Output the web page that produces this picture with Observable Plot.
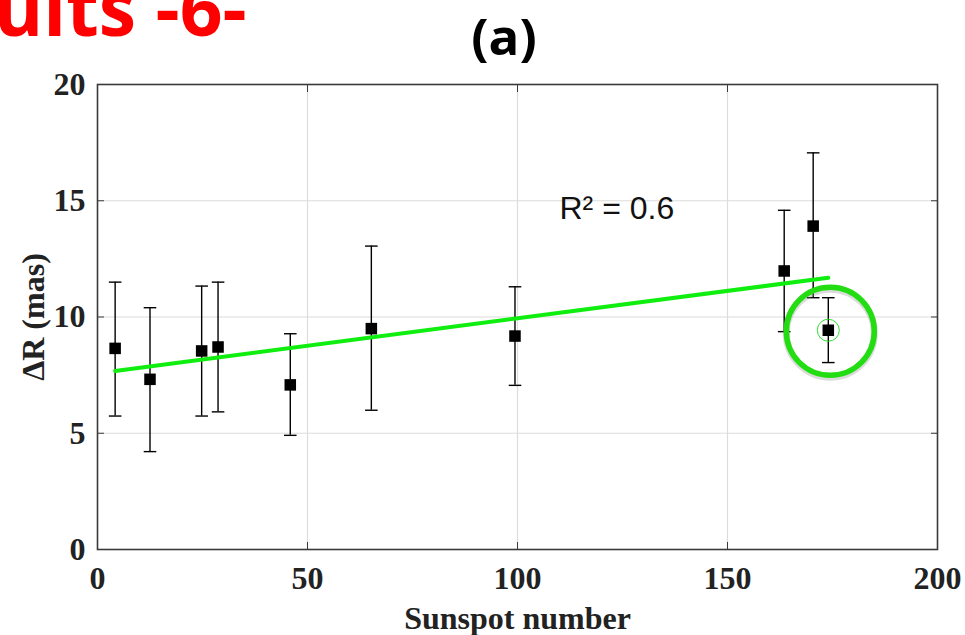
<!DOCTYPE html>
<html>
<head>
<meta charset="utf-8">
<script src="https://cdn.jsdelivr.net/npm/d3@7"></script>
<script src="https://cdn.jsdelivr.net/npm/@observablehq/plot@0.6"></script>
<style>
  html, body { margin: 0; padding: 0; background: #fff; overflow: hidden; }
  #wrap { position: relative; width: 965px; height: 635px; overflow: hidden; }
  #chart { position: absolute; left: 0; top: 0; }
  .slide { position: absolute; left: -6px; top: -30px; font-family: "Open Sans", sans-serif; font-weight: 700; font-size: 75px; line-height: 1; color: #ff0000; white-space: nowrap; }
  .panel { position: absolute; left: 504px; top: 0px; transform: translateX(-50%); font-family: "Open Sans", sans-serif; font-weight: 700; font-size: 51px; line-height: normal; color: #000; white-space: nowrap; }
</style>
</head>
<body>
<div id="wrap">
  <div id="chart"></div>
  <div class="slide">ults -6-</div>
  <div class="panel">(a)</div>
</div>
<script>
// ---- data ----
const sunspot = [4.2, 12.5, 24.8, 28.7, 45.9, 65.2, 99.4, 163.5, 170.4, 174.0];
const deltaR  = [8.65, 7.32, 8.54, 8.71, 7.08, 9.50, 9.18, 11.98, 13.91, 9.43];
const errHigh = [11.50, 10.40, 11.33, 11.50, 9.28, 13.05, 11.30, 14.59, 17.06, 10.83];
const errLow  = [5.74, 4.21, 5.74, 5.92, 4.91, 5.99, 7.06, 9.37, 10.83, 8.04];
const fitX = [4.2, 174.0];
const fitY = [7.68, 11.69];
const highlighted = [9];              // index of the circled point
const xTicks = [0, 50, 100, 150, 200];
const yTicks = [0, 5, 10, 15, 20];
const gridXTicks = [50, 100, 150];
const gridYTicks = [5, 10, 15];
const noteX = [110];
const noteY = [14.2];
const noteText = ["R² = 0.6"];

const points = sunspot.map((x, i) => ({x, y: deltaR[i], lo: errLow[i], hi: errHigh[i]}));
const fit = fitX.map((x, i) => ({x, y: fitY[i]}));
const circled = highlighted.map(i => points[i]);
const notes = noteX.map((x, i) => ({x, y: noteY[i], t: noteText[i]}));

const capSymbol = {
  draw(context, size) {
    const w = Math.sqrt(size / Math.PI);
    context.moveTo(-w, 0);
    context.lineTo(w, 0);
  }
};

const chart = Plot.plot({
  width: 965,
  height: 635,
  marginLeft: 97,
  marginRight: 28,
  marginTop: 84,
  marginBottom: 86,
  x: {domain: [0, 200]},
  y: {domain: [0, 20]},
  style: {fontFamily: "'Liberation Serif', serif", fontWeight: "bold", fontSize: "32px", color: "#222", background: "#fff"},
  marks: [
    Plot.gridX(gridXTicks, {stroke: "#dcdcdc", strokeOpacity: 1, strokeWidth: 1.2}),
    Plot.gridY(gridYTicks, {stroke: "#dcdcdc", strokeOpacity: 1, strokeWidth: 1.2}),
    Plot.frame({stroke: "#3a3a3a", strokeWidth: 1.6}),
    // inward ticks on all four sides
    Plot.axisX(xTicks, {anchor: "bottom", tickSize: -7, text: null, label: null, stroke: "#3a3a3a"}),
    Plot.axisX(xTicks, {anchor: "top", tickSize: -7, text: null, label: null, stroke: "#3a3a3a"}),
    Plot.axisY(yTicks, {anchor: "left", tickSize: -7, text: null, label: null, stroke: "#3a3a3a"}),
    Plot.axisY(yTicks, {anchor: "right", tickSize: -7, text: null, label: null, stroke: "#3a3a3a"}),
    // tick labels + axis titles
    Plot.axisX(xTicks, {anchor: "bottom", tickSize: 0, tickPadding: 17, label: "Sunspot number", labelAnchor: "center", labelArrow: "none", labelOffset: 79, fill: "#222"}),
    Plot.axisY(yTicks, {anchor: "left", tickSize: 0, tickPadding: 12, label: "ΔR (mas)", labelAnchor: "center", labelArrow: "none", labelOffset: 76, fill: "#222"}),
    // error bars
    Plot.ruleX(points, {x: "x", y1: "lo", y2: "hi", stroke: "#000", strokeWidth: 1.4}),
    Plot.dot(points, {x: "x", y: "hi", symbol: capSymbol, r: 6.3, stroke: "#000", strokeWidth: 1.4, fill: "none"}),
    Plot.dot(points, {x: "x", y: "lo", symbol: capSymbol, r: 6.3, stroke: "#000", strokeWidth: 1.4, fill: "none"}),
    // regression line
    Plot.line(fit, {x: "x", y: "y", stroke: "#10ee10", strokeWidth: 4}),
    // markers
    Plot.dot(points, {x: "x", y: "y", symbol: "square", r: 6.5, fill: "#000", stroke: "none"}),
    // highlight circles
    Plot.dot(circled, {x: "x", y: "y", r: 11, stroke: "#33dd33", strokeWidth: 1, fill: "none"}),
    Plot.dot(circled, {x: "x", y: "y", r: 44, dx: 2, dy: 3, stroke: "#888", strokeOpacity: 0.3, strokeWidth: 7, fill: "none"}),
    Plot.dot(circled, {x: "x", y: "y", r: 44, dx: 2, dy: 1, stroke: "#22dd11", strokeWidth: 5.5, fill: "none"}),
    // annotation
    Plot.text(notes, {x: "x", y: "y", text: "t", textAnchor: "start", lineAnchor: "bottom", fontFamily: "'Liberation Sans', Arial, sans-serif", fontWeight: "normal", fontSize: 32, fill: "#111"})
  ]
});
document.getElementById("chart").appendChild(chart);
</script>
</body>
</html>
